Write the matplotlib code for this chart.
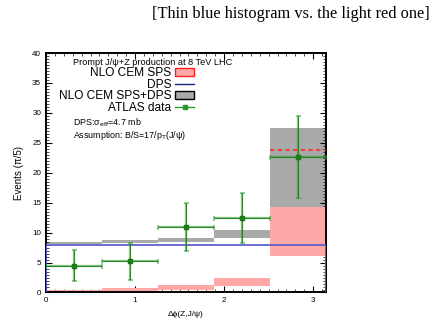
import numpy as np
import matplotlib.pyplot as plt
from matplotlib.patches import Patch
from matplotlib.lines import Line2D

plt.rcParams['font.family'] = ['Liberation Sans', 'DejaVu Sans']

# bins of pi/5 in delta phi
edges = np.linspace(0, np.pi, 6)
centers = 0.5 * (edges[:-1] + edges[1:])

# NLO CEM SPS band (low, high)
sps_lo = [0.0, 0.2, 0.45, 1.05, 6.1]
sps_hi = [0.45, 0.8, 1.2, 2.4, 14.3]
# DPS histogram
dps = [7.9, 7.9, 7.9, 7.9, 7.9]
# SPS+DPS band (low, high)
tot_lo = [8.1, 8.35, 8.5, 9.15, 14.2]
tot_hi = [8.5, 8.8, 9.15, 10.5, 27.4]
tot_mid_last = 23.8
# ATLAS data
data = [4.5, 5.2, 11.0, 12.4, 22.6]
err_lo = [2.6, 3.1, 4.0, 4.2, 6.8]
err_hi = [2.6, 3.0, 4.0, 4.3, 6.9]

fig = plt.figure(figsize=(4.35, 3.21), dpi=100)
ax = fig.add_axes([0.1057, 0.0888, 0.6433, 0.746])

w = np.diff(edges)
tot_lo = np.array(tot_lo); tot_hi = np.array(tot_hi)
sps_lo = np.array(sps_lo); sps_hi = np.array(sps_hi)
ax.bar(edges[:-1], tot_hi - tot_lo, bottom=tot_lo, width=w, align='edge',
       color='#a9a9a9', lw=0, zorder=1)
ax.bar(edges[:-1], sps_hi - sps_lo, bottom=sps_lo, width=w, align='edge',
       color='#ffa8a8', lw=0, zorder=2)
ax.stairs(dps, edges, baseline=0, color='#6060cc', lw=1.3, zorder=3)
ax.hlines(tot_mid_last, edges[-2], edges[-1], colors='#ff2020', linestyles=(0, (3, 2)),
          lw=1.1, zorder=3)

ax.errorbar(centers, data, yerr=[err_lo, err_hi], xerr=w / 2, fmt='s',
            color='#2a8a2a', ecolor='#2a9a2a', elinewidth=1.6, alpha=0.6,
            capsize=1.8, capthick=1.2, markersize=3.5, zorder=4)
ax.errorbar(centers, data, yerr=[err_lo, err_hi], xerr=w / 2, fmt='s',
            color='#1f7a1f', elinewidth=0.6, capsize=0, markersize=3.5, zorder=5)

ax.set_xlim(0, np.pi)
ax.set_ylim(0, 40)
ax.set_xticks([0, 1, 2, 3])
ax.set_yticks(np.arange(0, 41, 5))
ax.set_xticks(np.arange(0, 3.15, 0.1), minor=True)
ax.set_yticks(np.arange(0, 40.1, 0.5), minor=True)
ax.tick_params(which='both', direction='in', top=True, right=True, labelsize=5.8,
               color='black')
ax.tick_params(which='major', length=4, width=0.8)
ax.tick_params(which='minor', length=2, width=0.5)
for s in ax.spines.values():
    s.set_linewidth(1.4)

ax.set_ylabel('Events (π/5)', fontsize=7, labelpad=6)
ax.set_xlabel('Δϕ(Z,J/ψ)', fontsize=6, labelpad=5)

ax.text(0.096, 0.978, 'Prompt J/ψ+Z production at 8 TeV LHC', transform=ax.transAxes,
        fontsize=6.6, va='top', ha='left')
ax.text(0.096, 0.71, 'DPS:σ$_{\\rm eff}$=4.7 mb', transform=ax.transAxes,
        fontsize=6.4, va='center', ha='left')
ax.text(0.096, 0.655, 'Assumption: B/S=17/p$_{\\rm T}$(J/ψ)', transform=ax.transAxes,
        fontsize=6.4, va='center', ha='left')

handles = [
    Patch(facecolor='#ffa8a8', edgecolor='#ff2020', lw=1.0),
    Line2D([], [], color='#202080', lw=1.0),
    Patch(facecolor='#a9a9a9', edgecolor='black', lw=1.0),
    Line2D([], [], color='#2a9a2a', lw=1.0, marker='s', markersize=2.5),
]
labels = ['NLO CEM SPS', 'DPS', 'NLO CEM SPS+DPS', 'ATLAS data']
leg = ax.legend(handles, labels, loc='upper right', bbox_to_anchor=(0.53, 0.94),
                frameon=False, markerfirst=False, fontsize=8.6, handlelength=1.6,
                handleheight=0.6, handletextpad=0.3, labelspacing=-0.05,
                borderpad=0.0, borderaxespad=0.0)

fig.text(0.988, 0.955, '[Thin blue histogram vs. the light red one]', ha='right',
         va='center', fontsize=11.8, family='Liberation Serif')

fig.savefig('out.png', dpi=100)
